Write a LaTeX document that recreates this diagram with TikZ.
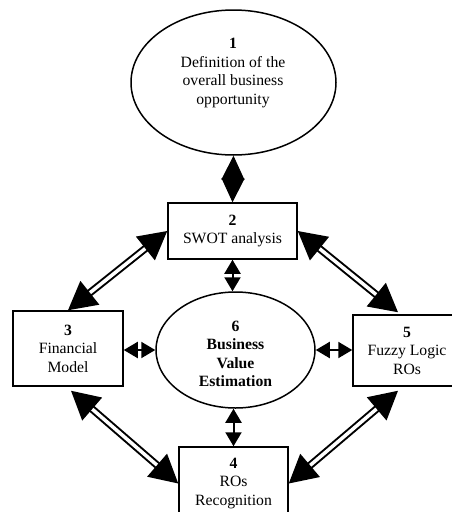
\documentclass[tikz,border=0pt]{standalone}
\usepackage{fontspec}
\setmainfont{Liberation Serif}
\usetikzlibrary{shapes.geometric,arrows.meta,calc}
\begin{document}
\begin{tikzpicture}[x=1pt,y=-1pt,
  every node/.style={font=\fontsize{15.7}{18.5}\selectfont, align=center, inner sep=0pt},
  box/.style={draw, line width=1.5pt, rectangle},
  oval/.style={draw, line width=1.5pt, ellipse},
  big/.style={line width=2pt, double=white, double distance=3.5pt, {Triangle[length=28pt,width=30pt]}-{Triangle[length=28pt,width=30pt]}},
  small/.style={line width=2pt, {Triangle[length=14pt,width=16pt]}-{Triangle[length=14pt,width=16pt]}},
  diam/.style={line width=1pt, {Triangle[length=24pt,width=23pt]}-{Triangle[length=24pt,width=23pt]}}
]
\useasboundingbox (0,0) rectangle (452,512);
\clip (0,0) rectangle (452,512);
\fill[white] (0,0) rectangle (452,512);

\node[oval, minimum width=205pt, minimum height=145pt] (n1) at (233.5,82.5) {};
\node (t1) at (233,73) {\textbf{1}\\Definition of the\\overall business\\opportunity};

\node[box, minimum width=129pt, minimum height=56pt] (n2) at (232.5,231) {\textbf{2}\\SWOT analysis};
\node[box, minimum width=110pt, minimum height=75pt] (n3) at (68,348.5) {\textbf{3}\\Financial\\Model};
\node[box, minimum width=108pt, minimum height=71pt] (n5) at (407,350.5) {\textbf{5}\\Fuzzy Logic\\ROs};
\node[box, minimum width=109pt, minimum height=73pt] (n4) at (233.5,483.5) {\textbf{4}\\ROs\\Recognition};
\node[oval, minimum width=159pt, minimum height=116pt] (n6) at (235.5,350) {};
\node (t6) at (235.5,354) {\textbf{6}\\\textbf{Business}\\\textbf{Value}\\\textbf{Estimation}};

\draw[diam] (n1.south) -- (n2.north);
\draw[big] (n2.west) -- (n3.north);
\draw[big] (n2.east) -- ($(n5.north)+(-9,-2)$);
\draw[big] ($(n3.south)+(3,4)$) -- (n4.west);
\draw[big] ($(n5.south)+(-9,4)$) -- (n4.east);

\draw[small] (n2.south) -- (n2.south |- n6.north);
\draw[small] (n3.east |- n6.west) -- (n6.west);
\draw[small] (n6.east) -- (n5.west |- n6.east);
\draw[small] (n4.north |- n6.south) -- (n4.north);
\end{tikzpicture}
\end{document}
